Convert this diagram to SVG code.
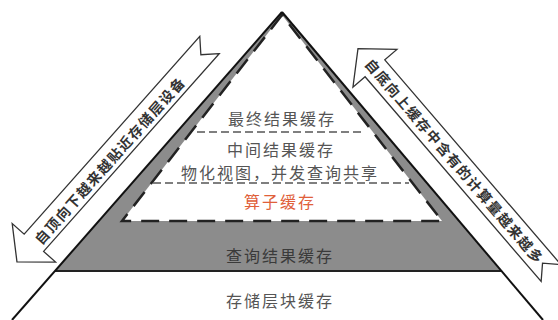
<svg xmlns="http://www.w3.org/2000/svg" width="558" height="320" viewBox="0 0 558 320">
<style>
.lbl{font-family:"Noto Sans CJK SC","Liberation Sans",sans-serif;font-size:16px;fill:#555;text-anchor:middle;dominant-baseline:central;letter-spacing:2px}
.arr{fill:#fff;stroke:#333;stroke-width:1.3;stroke-linejoin:miter}
.atxt{font-family:"Noto Sans CJK SC","Liberation Sans",sans-serif;font-size:14px;fill:#333;text-anchor:middle;dominant-baseline:central;letter-spacing:1.6px;font-weight:bold}
.thin{stroke:#555;stroke-width:1.5;stroke-dasharray:8 4;fill:none}
</style>
<rect width="558" height="320" fill="#fff"/>
<g id="gray-zone">
<polygon points="282,12 55,271 501,271" fill="#8c8c8c"/>
<line x1="55" y1="271" x2="501" y2="271" stroke="#222" stroke-width="2"/>
</g>
<g id="inner-zone">
<polygon points="282,15 122,221 442,221" fill="#fff" stroke="#222" stroke-width="2.5" stroke-dasharray="18 10"/>
</g>
<g id="connectors">
<line x1="282" y1="12" x2="12" y2="320" stroke="#111" stroke-width="2"/>
<line x1="282" y1="12" x2="543" y2="320" stroke="#111" stroke-width="2"/>
<line class="thin" x1="197" y1="132" x2="364" y2="132"/>
<line class="thin" x1="153" y1="183" x2="409" y2="183"/>
</g>
<g id="left-arrow">
<polygon class="arr" transform="translate(209.5,45) rotate(131.6)" points="0,-13 13,0 0,13 264.5,13 264.5,29 290,0 264.5,-29 264.5,-13"/>
<text class="atxt" transform="translate(109.5,160) rotate(-48.4)">自顶向下越来越贴近存储层设备</text>
</g>
<g id="right-arrow">
<polygon class="arr" transform="translate(551,273) rotate(229.3)" points="0,-13 13,0 0,13 270,13 270,29 296,0 270,-29 270,-13"/>
<text class="atxt" transform="translate(455,161) rotate(49.3)">自底向上缓存中含有的计算量越来越多</text>
</g>
<g id="node-final"><text class="lbl" x="282" y="118">最终结果缓存</text></g>
<g id="node-middle"><text class="lbl" x="281" y="149">中间结果缓存</text><text class="lbl" x="280" y="172">物化视图，并发查询共享</text></g>
<g id="node-operator"><text class="lbl" x="280" y="201" style="fill:#e0603a">算子缓存</text></g>
<g id="node-query"><text class="lbl" x="280" y="255" style="fill:#3a3a3a">查询结果缓存</text></g>
<g id="node-storage"><text class="lbl" x="280" y="300">存储层块缓存</text></g>
</svg>
